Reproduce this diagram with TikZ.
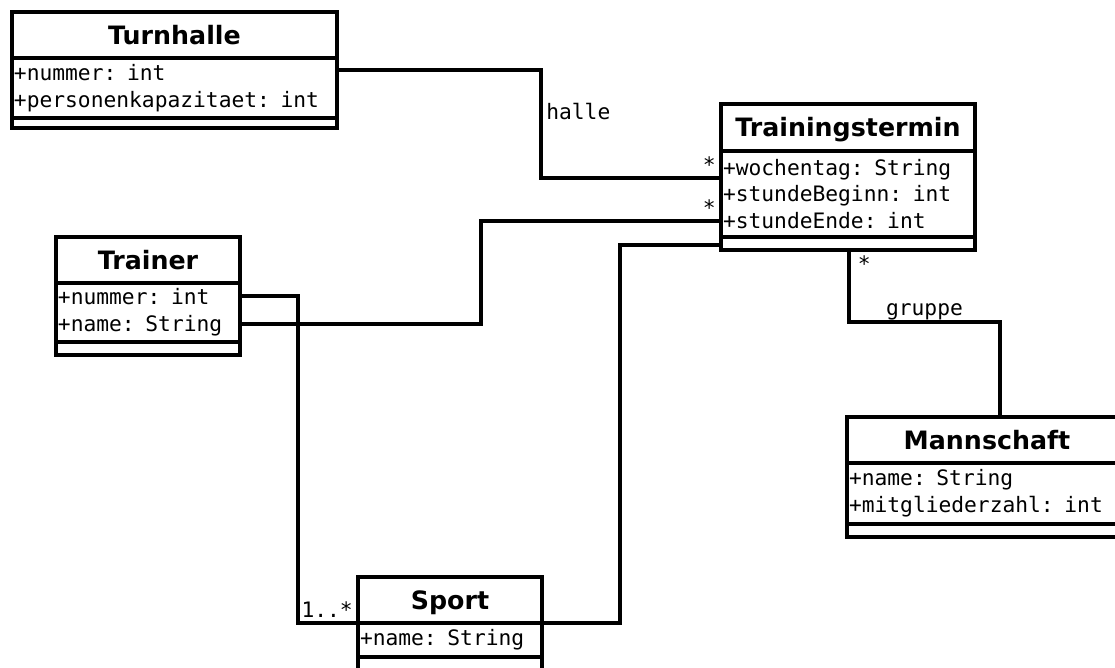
\documentclass[tikz,border=0pt]{standalone}
\usepackage{fontspec}
\newfontfamily\kopffont{DejaVu Sans}
\newfontfamily\monofont{DejaVu Sans Mono}
\usetikzlibrary{positioning}
\tikzstyle{klasse} = [rectangle, draw=black, line width=2pt, outer sep=0pt, inner sep=0pt]
\tikzstyle{kopf} = [klasse, font=\kopffont\bfseries\fontsize{14.4}{17}\selectfont, text height=13.4pt, text depth=2.8pt]
\tikzstyle{felder} = [klasse, font=\monofont\fontsize{12.1}{15.3}\selectfont, align=left, inner xsep=0.04cm]
\tikzstyle{methoden} = [klasse]
\tikzstyle{assoc} = [line width=2pt]
\tikzstyle{mult} = [font=\monofont\fontsize{12.1}{15.3}\selectfont, inner sep=2pt]

\begin{document}
\begin{tikzpicture}[x=0.02cm, y=-0.02cm]
        \useasboundingbox (0,0) rectangle (1115,668);

        % Klassen
        \node (turnhalle) [kopf, anchor=north west, minimum width=6.5cm, minimum height=0.92cm] at (12,12) {Turnhalle};
        \node (turnhalle-felder) [felder, below=0pt of turnhalle, text width=6.42cm, minimum height=1.2cm] {+nummer: int\\+personenkapazitaet: int};
        \node (turnhalle-methoden) [methoden, below=0pt of turnhalle-felder, minimum width=6.5cm, minimum height=0.2cm] {};

        \node (trainingstermin) [kopf, anchor=north west, minimum width=5.08cm, minimum height=0.94cm] at (721,104) {Trainingstermin};
        \node (trainingstermin-felder) [felder, below=0pt of trainingstermin, text width=5.0cm, minimum height=1.72cm] {+wochentag: String\\+stundeBeginn: int\\+stundeEnde: int};
        \node (trainingstermin-methoden) [methoden, below=0pt of trainingstermin-felder, minimum width=5.08cm, minimum height=0.26cm] {};

        \node (trainer) [kopf, anchor=north west, minimum width=3.68cm, minimum height=0.92cm] at (56,237) {Trainer};
        \node (trainer-felder) [felder, below=0pt of trainer, text width=3.6cm, minimum height=1.18cm] {+nummer: int\\+name: String};
        \node (trainer-methoden) [methoden, below=0pt of trainer-felder, minimum width=3.68cm, minimum height=0.26cm] {};

        \node (mannschaft) [kopf, anchor=north west, minimum width=5.6cm, minimum height=0.92cm] at (847,417) {Mannschaft};
        \node (mannschaft-felder) [felder, below=0pt of mannschaft, text width=5.52cm, minimum height=1.22cm] {+name: String\\+mitgliederzahl: int};
        \node (mannschaft-methoden) [methoden, below=0pt of mannschaft-felder, minimum width=5.6cm, minimum height=0.26cm] {};

        \node (sport) [kopf, anchor=north west, minimum width=3.68cm, minimum height=0.92cm] at (358,577) {Sport};
        \node (sport-felder) [felder, below=0pt of sport, text width=3.6cm, minimum height=0.68cm] {+name: String};
        \node (sport-methoden) [methoden, below=0pt of sport-felder, minimum width=3.68cm, minimum height=0.4cm] {};

        % Assoziationen
        \draw [assoc] ([yshift=-0.24cm]turnhalle-felder.north east) -| node[mult, right, pos=0.69] {halle} ([xshift=-3.6cm, yshift=-0.54cm]trainingstermin-felder.north west) -- ([yshift=-0.54cm]trainingstermin-felder.north west) node[mult, above left] {*};
        \draw [assoc] ([yshift=-0.82cm]trainer-felder.north east) -| ([xshift=-4.8cm, yshift=-1.4cm]trainingstermin-felder.north west) -- ([yshift=-1.4cm]trainingstermin-felder.north west) node[mult, above left] {*};
        \draw [assoc] ([yshift=-0.26cm]trainer-felder.north east) -| ([xshift=-1.2cm]sport-felder.north west) -- (sport-felder.north west) node[mult, above left] {1..*};
        \draw [assoc] (sport-felder.north east) -| ([xshift=-2.02cm, yshift=-0.16cm]trainingstermin-methoden.north west) -- ([yshift=-0.16cm]trainingstermin-methoden.north west);
        \draw [assoc] ([xshift=2.56cm]trainingstermin-methoden.south west) node[mult, below right, xshift=2pt] {*} |- node[mult, above, pos=0.75, inner sep=0pt] {gruppe} ([xshift=3.06cm, yshift=1.9cm]mannschaft.north west) -- ([xshift=3.06cm]mannschaft.north west);
\end{tikzpicture}
\end{document}
